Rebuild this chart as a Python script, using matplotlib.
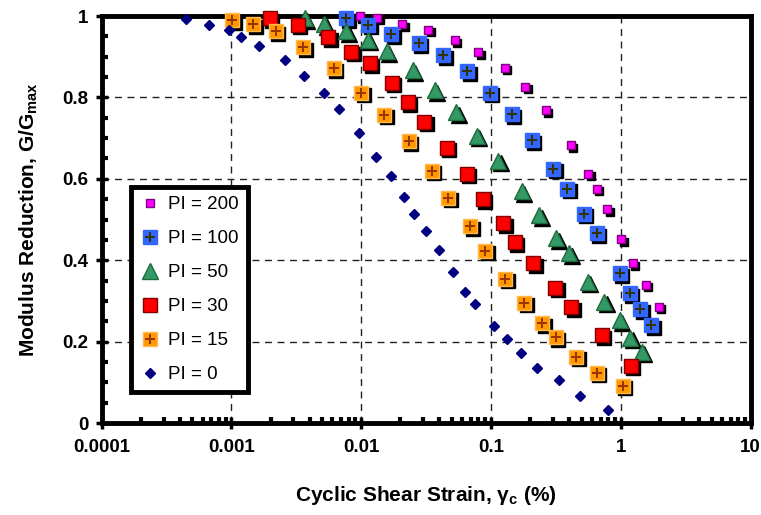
import matplotlib
matplotlib.use("Agg")
import matplotlib.pyplot as plt
from matplotlib.transforms import offset_copy
from matplotlib.legend_handler import HandlerTuple
from matplotlib.ticker import LogLocator, NullFormatter, MultipleLocator

plt.rcParams['font.family'] = ['Liberation Sans', 'DejaVu Sans']
plt.rcParams['mathtext.fontset'] = 'custom'
plt.rcParams['mathtext.rm'] = 'Liberation Sans'
plt.rcParams['mathtext.bf'] = 'Liberation Sans:bold'
plt.rcParams['mathtext.it'] = 'Liberation Sans:italic'

# ---- data (strain in %, G/Gmax) ----
pi0_x = [4.5e-4, 6.7e-4, 9.5e-4, 1.19e-3, 1.63e-3, 2.58e-3, 3.61e-3, 5.15e-3, 6.72e-3, 9.6e-3,
         0.0130, 0.0169, 0.0213, 0.0256, 0.0313, 0.0394, 0.0507, 0.0627, 0.075, 0.1045,
         0.132, 0.170, 0.226, 0.331, 0.487, 0.794]
pi0_y = [0.992, 0.977, 0.966, 0.948, 0.927, 0.892, 0.853, 0.811, 0.771, 0.713,
         0.654, 0.607, 0.556, 0.514, 0.471, 0.425, 0.370, 0.322, 0.292, 0.238,
         0.206, 0.171, 0.134, 0.105, 0.066, 0.032]

pi15_x = [1.01e-3, 1.47e-3, 2.19e-3, 3.56e-3, 6.15e-3, 0.010, 0.0151, 0.0232, 0.0349, 0.0467,
          0.0689, 0.0903, 0.129, 0.180, 0.247, 0.316, 0.455, 0.653, 1.03]
pi15_y = [0.990, 0.980, 0.963, 0.923, 0.872, 0.812, 0.757, 0.692, 0.620, 0.554,
          0.484, 0.423, 0.354, 0.296, 0.245, 0.211, 0.163, 0.124, 0.092]

pi30_x = [1.98e-3, 3.24e-3, 5.55e-3, 8.38e-3, 0.01164, 0.01718, 0.0228, 0.0307, 0.0455, 0.0649,
          0.0865, 0.1236, 0.1524, 0.2114, 0.3123, 0.415, 0.714, 1.194]
pi30_y = [0.994, 0.978, 0.948, 0.912, 0.884, 0.836, 0.788, 0.740, 0.676, 0.612,
          0.550, 0.491, 0.444, 0.393, 0.332, 0.284, 0.216, 0.141]

pi50_x = [3.66e-3, 5.18e-3, 7.67e-3, 0.01125, 0.01574, 0.02483, 0.0367, 0.0541, 0.0775, 0.1138,
          0.1725, 0.2354, 0.318, 0.400, 0.557, 0.744, 0.982, 1.18, 1.45]
pi50_y = [0.994, 0.980, 0.963, 0.942, 0.914, 0.867, 0.818, 0.764, 0.706, 0.645,
          0.570, 0.511, 0.454, 0.417, 0.347, 0.298, 0.253, 0.210, 0.175]

pi100_x = [7.67e-3, 0.01128, 0.01702, 0.02776, 0.0430, 0.0654, 0.0979, 0.1438, 0.2052, 0.301,
           0.388, 0.518, 0.653, 0.982, 1.17, 1.41, 1.72]
pi100_y = [0.994, 0.978, 0.955, 0.933, 0.904, 0.864, 0.812, 0.759, 0.695, 0.625,
           0.576, 0.514, 0.466, 0.368, 0.319, 0.280, 0.240]

pi200_x = [9.7e-3, 0.01327, 0.0206, 0.0327, 0.0525, 0.0798, 0.127, 0.183, 0.265, 0.412,
           0.563, 0.653, 0.787, 1.01, 1.24, 1.56, 1.96]
pi200_y = [1.0, 0.996, 0.980, 0.966, 0.940, 0.911, 0.873, 0.826, 0.769, 0.682,
           0.612, 0.575, 0.525, 0.451, 0.393, 0.340, 0.286]

x_ticks = [0.0001, 0.001, 0.01, 0.1, 1, 10]
x_ticklabels = ['0.0001', '0.001', '0.01', '0.1', '1', '10']
y_ticks = [0, 0.2, 0.4, 0.6, 0.8, 1]
y_ticklabels = ['0', '0.2', '0.4', '0.6', '0.8', '1']

fig = plt.figure(figsize=(7.61, 5.15), dpi=100)
ax = fig.add_axes([0.1336, 0.1786, 0.8528, 0.7903])
ax.set_xscale('log')
ax.set_xlim(1e-4, 10)
ax.set_ylim(0, 1)

shadow_tr = offset_copy(ax.transData, fig=fig, x=2.5, y=-2.5, units='dots')

# (label, x, y, marker, size, face, edge, plus color)
series = [
    ('PI = 200', pi200_x, pi200_y, 's', 6.0, '#FF00FF', '#800080', None),
    ('PI = 100', pi100_x, pi100_y, 's', 10.0, '#3366FF', '#3366FF', '#333300'),
    ('PI = 50', pi50_x, pi50_y, '^', 11.5, '#339966', '#1E6B3C', None),
    ('PI = 30', pi30_x, pi30_y, 's', 10.5, '#FF0000', '#800000', None),
    ('PI = 15', pi15_x, pi15_y, 's', 10.0, '#FF9900', '#FFB84D', '#993300'),
    ('PI = 0', pi0_x, pi0_y, 'D', 5.0, '#000080', '#000080', None),
]

handles = []
labels = []
for lab, xs, ys, mk, ms, fc, ec, pc in series:
    if mk != 'D':
        ax.plot(xs, ys, linestyle='none', marker=mk, markersize=ms, markerfacecolor='black',
                markeredgecolor='black', markeredgewidth=1.0, transform=shadow_tr,
                clip_on=False, zorder=4)
    h = ax.plot(xs, ys, linestyle='none', marker=mk, markersize=ms, markerfacecolor=fc,
                markeredgecolor=ec, markeredgewidth=1.0, clip_on=False, zorder=5)[0]
    parts = [h]
    if pc is not None:
        p = ax.plot(xs, ys, linestyle='none', marker='+', markersize=ms * 0.75,
                    markeredgecolor=pc, markeredgewidth=1.4, clip_on=False, zorder=6)[0]
        parts.append(p)
    handles.append(tuple(parts))
    labels.append(lab)

ax.set_xticks(x_ticks)
ax.set_xticklabels(x_ticklabels)
ax.set_yticks(y_ticks)
ax.set_yticklabels(y_ticklabels)
ax.xaxis.set_minor_locator(LogLocator(base=10, subs=[2, 3, 4, 5, 6, 7, 8, 9]))
ax.xaxis.set_minor_formatter(NullFormatter())
ax.yaxis.set_minor_locator(MultipleLocator(0.05))

for lab in ax.get_xticklabels() + ax.get_yticklabels():
    lab.set_fontweight('bold')
    lab.set_fontsize(13.5)

ax.tick_params(axis='both', which='major', direction='inout', length=9, width=2.5,
               pad=5, top=False, right=False)
ax.tick_params(axis='both', which='minor', direction='in', length=4, width=3,
               top=False, right=False)
ax.tick_params(axis='x', which='major', pad=7)

ax.grid(True, which='major', color='#222222', linestyle=(0, (5, 4)), linewidth=1.0)
ax.set_axisbelow(True)

for s in ax.spines.values():
    s.set_linewidth(3.5)
    s.set_color('black')

ax.set_xlabel('Cyclic Shear Strain, γ$_{\\mathbf{c}}$ (%)', fontsize=15, fontweight='bold',
              labelpad=20)
ax.set_ylabel('Modulus Reduction, G/G$_{\\mathbf{max}}$', fontsize=15, fontweight='bold',
              labelpad=16)

leg = ax.legend(handles, labels, loc='lower left', bbox_to_anchor=(0.045, 0.075),
                handler_map={tuple: HandlerTuple(ndivide=1, pad=0)},
                fontsize=13.5, frameon=True, fancybox=False, edgecolor='black',
                framealpha=1, labelspacing=0.9, handlelength=1.0, handletextpad=0.5,
                borderpad=0.5, borderaxespad=0)
leg.get_frame().set_linewidth(3.5)
leg.set_zorder(7)

fig.savefig('out.png', dpi=100)
